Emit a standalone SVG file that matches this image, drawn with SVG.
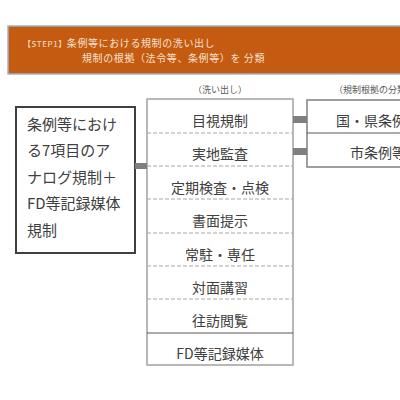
<svg xmlns="http://www.w3.org/2000/svg" width="400" height="400" viewBox="0 0 400 400">
<style>
text{font-family:"Noto Sans CJK JP","Noto Sans",sans-serif;fill:#404040}
.row{font-size:14px;text-anchor:middle;dominant-baseline:central}
.lbl{font-size:9px;fill:#595959;dominant-baseline:central}
.hd{font-size:10px;fill:#F6E2D2;dominant-baseline:central;letter-spacing:0.6px}
.dash{stroke:#A6A6A6;stroke-width:1;stroke-dasharray:4 2}
.bar{fill:#7F7F7F}
</style>
<rect width="400" height="400" fill="#fff"/>
<g id="header">
<rect x="8" y="26" width="400" height="48" fill="#C55A11" stroke="#9DB3CC" stroke-width="1.5"/>
<text class="hd" x="23" y="42.5"><tspan font-size="8px">【STEP1】</tspan>条例等における規制の洗い出し</text>
<text class="hd" x="82" y="57">規制の根拠（法令等、条例等）を 分類</text>
</g>
<g id="source">
<rect x="16" y="107" width="119" height="146" fill="#fff" stroke="#404040" stroke-width="2"/>
<text x="27" y="123" font-size="15px" dominant-baseline="central">条例等におけ</text>
<text x="27" y="149.5" font-size="15px" dominant-baseline="central">る7項目のア</text>
<text x="27" y="176" font-size="15px" dominant-baseline="central">ナログ規制＋</text>
<text x="27" y="202.5" font-size="15px" dominant-baseline="central">FD等記録媒体</text>
<text x="27" y="229" font-size="15px" dominant-baseline="central">規制</text>
</g>
<g id="list">
<text class="lbl" x="220" y="89" text-anchor="middle">（洗い出し）</text>
<rect x="147" y="99" width="146" height="266" fill="#fff" stroke="#A0A0A0" stroke-width="1.5"/>
<line class="dash" x1="147" y1="133" x2="293" y2="133"/>
<line class="dash" x1="147" y1="166" x2="293" y2="166"/>
<line class="dash" x1="147" y1="199" x2="293" y2="199"/>
<line class="dash" x1="147" y1="233" x2="293" y2="233"/>
<line class="dash" x1="147" y1="266" x2="293" y2="266"/>
<line class="dash" x1="147" y1="299" x2="293" y2="299"/>
<line x1="147" y1="333" x2="293" y2="333" stroke="#595959" stroke-width="1.2"/>
<text class="row" x="220" y="120">目視規制</text>
<text class="row" x="220" y="153">実地監査</text>
<text class="row" x="220" y="186.5">定期検査・点検</text>
<text class="row" x="220" y="220">書面提示</text>
<text class="row" x="220" y="253.5">常駐・専任</text>
<text class="row" x="220" y="286.5">対面講習</text>
<text class="row" x="220" y="320">往訪閲覧</text>
<text class="row" x="220" y="353">FD等記録媒体</text>
</g>
<g id="basis">
<text class="lbl" x="334" y="89">（規制根拠の分類）</text>
<rect x="307" y="100" width="110" height="67" fill="#fff" stroke="#7F7F7F" stroke-width="1.5"/>
<line x1="307" y1="133" x2="417" y2="133" stroke="#595959" stroke-width="1.2"/>
<text class="row" x="378" y="119.5">国・県条例等</text>
<text class="row" x="378" y="152">市条例等</text>
</g>
<g id="connectors">
<rect class="bar" x="135" y="163" width="12" height="6"/>
<rect class="bar" x="293" y="116" width="14" height="7"/>
<rect class="bar" x="293" y="148" width="14" height="7"/>
</g>
</svg>
